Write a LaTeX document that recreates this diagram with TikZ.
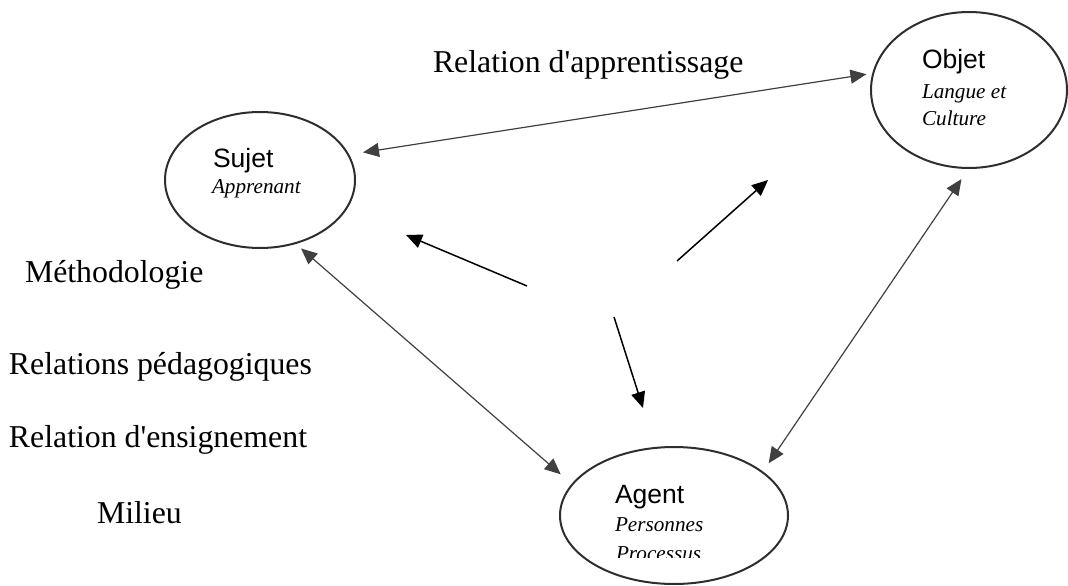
\documentclass[tikz,border=0pt]{standalone}
\usepackage{fontspec}
\setmainfont{Liberation Serif}[Ligatures=TeXOff]
\setsansfont{Liberation Sans}
\usetikzlibrary{arrows.meta,shapes.geometric}
\definecolor{edge}{HTML}{2E2E2E}
\definecolor{link}{HTML}{404040}
\begin{document}
\begin{tikzpicture}[x=1pt,y=-1pt,
  blob/.style={ellipse,draw=edge,line width=2pt,inner sep=0pt,outer sep=0pt},
  lbl/.style={anchor=base west,inner sep=0pt,outer sep=0pt},
  big/.style={lbl,font=\fontsize{31.8}{38}\selectfont},
  head/.style={lbl,font=\sffamily\fontsize{26.5}{30}\selectfont},
  sub/.style={lbl,font=\itshape\fontsize{21.2}{27}\selectfont},
  duo/.style={draw=link,line width=1.2pt,{Triangle[length=16pt,width=14pt]}-{Triangle[length=16pt,width=14pt]}},
  ray/.style={draw=black,line width=1.5pt,-{Triangle[length=16pt,width=14pt]}}]
\useasboundingbox (0,0) rectangle (1068,586);

% ellipses
\node[blob,minimum width=190pt,minimum height=136pt] (sujet) at (260,180) {};
\node[blob,minimum width=196pt,minimum height=156pt] (objet) at (969,90) {};
\node[blob,minimum width=228pt,minimum height=137pt] (agent) at (674,515.5) {};

% texts inside ellipses
\node[head] (tsujet) at (213,167) {Sujet};
\node[sub] (tappr) at (212,193) {Apprenant};
\node[head] (tobjet) at (922,69) {Objet};
\node[sub] (tlang) at (922,98) {Langue et};
\node[sub] (tcult) at (922,125) {Culture};
\node[head] (tagent) at (615,503) {Agent};
\node[sub] (tpers) at (615,531) {Personnes};
\begin{scope}
\clip (600,540) rectangle (760,557.5);
\node[sub] (tproc) at (616,560) {Processus};
\end{scope}

% free texts
\node[big] (trel) at (433,73) {Relation d'apprentissage};
\node[big] (tmeth) at (25,282) {Méthodologie};
\node[big] (tpeda) at (9,374) {Relations pédagogiques};
\node[big] (tens) at (9,447) {Relation d'ensignement};
\node[big] (tmil) at (97,523) {Milieu};

% double arrows between ellipses
\draw[duo,shorten <=15pt,shorten >=7pt] (sujet.16.2) -- (objet.170.5);
\draw[duo,shorten <=8pt,shorten >=15.5pt] (sujet.299.9) -- (agent.163.5);
\draw[duo,shorten <=13.4pt,shorten >=11pt] (objet.270.4) -- (agent.26.8);

% free arrows
\coordinate (a1t) at (527,286);
\coordinate (a1h) at (406,235);
\coordinate (a2t) at (677,261);
\coordinate (a2h) at (768,180);
\coordinate (a3t) at (614,317);
\coordinate (a3h) at (643,408);
\draw[ray] (a1t) -- (a1h);
\draw[ray] (a2t) -- (a2h);
\draw[ray] (a3t) -- (a3h);
\end{tikzpicture}
\end{document}
